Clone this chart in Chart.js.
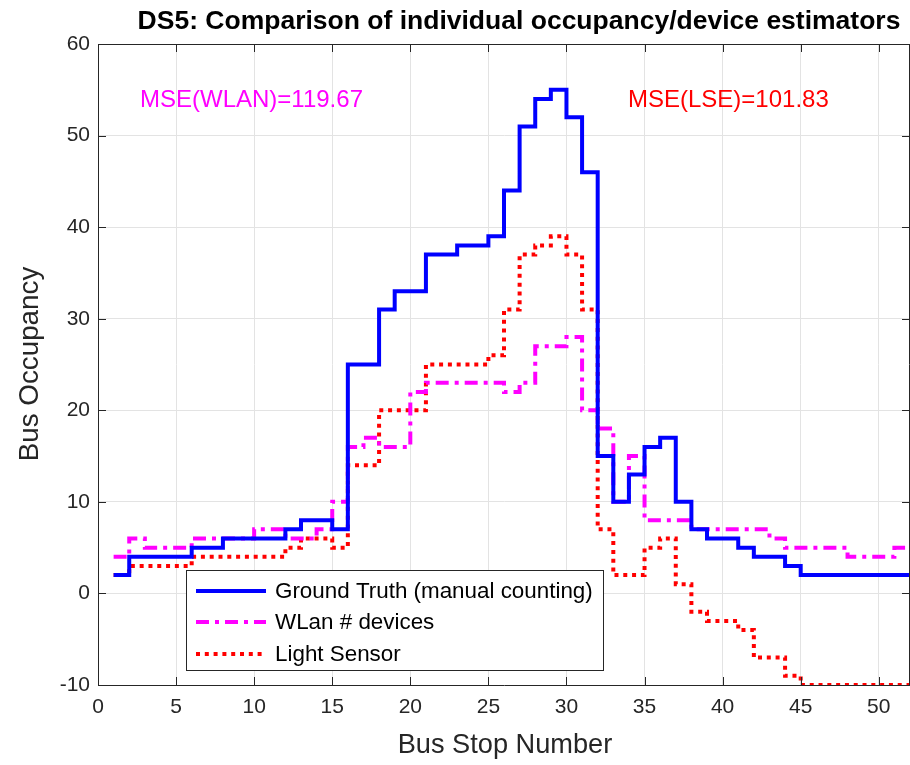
<!DOCTYPE html>
<html>
<head>
<meta charset="utf-8">
<script src="https://cdn.jsdelivr.net/npm/chart.js@4.4.0/dist/chart.umd.min.js"></script>
<style>
  html, body { margin: 0; padding: 0; background: #fff; }
  #wrap { width: 910px; height: 765px; }
</style>
</head>
<body>
<div id="wrap"><canvas id="chart" width="910" height="765"></canvas></div>
<script>
// bus stop numbers 1..52
var stops = [];
for (var s = 1; s <= 52; s++) stops.push(s);

var groundTruth = [2,4,4,4,4,5,5,6,6,6, 6,7,8,8,7,25,25,31,33,33,
                   37,37,38,38,39,44,51,54,55,52, 46,15,10,13,16,17,10,7,6,6,
                   5,4,4,3,2,2,2,2,2,2, 2,2];
var wlanDevices = [4,6,5,5,5,6,6,6,6,7, 7,6,6,7,10,16,17,16,16,22,
                   23,23,23,23,23,22,23,27,27,28, 20,18,10,15,8,8,8,7,7,7,
                   7,7,6,5,5,5,5,4,4,4, 5,5];
var lightSensor = [2,3,3,3,3,4,4,4,4,4, 4,5,6,6,5,14,14,20,20,20,
                   25,25,25,25,26,31,37,38,39,37, 31,7,2,2,5,6,1,-2,-3,-3,
                   -4,-7,-7,-9,-10,-10,-10,-10,-10,-10, -10,-10];

var xTicks = [0,5,10,15,20,25,30,35,40,45,50];
var yTicks = [-10,0,10,20,30,40,50,60];

var seriesNames = ['Ground Truth (manual counting)', 'WLan # devices', 'Light Sensor'];
var mseWlan = 'MSE(WLAN)=119.67';
var mseLse = 'MSE(LSE)=101.83';

var FONT = '"Liberation Sans", Arial, Helvetica, sans-serif';
var AXIS = '#262626';

function pts(vals) {
    return stops.map(function (x, i) { return { x: x, y: vals[i] }; });
}

var decor = {
    id: 'decor',
    afterDraw: function (chart) {
        var ctx = chart.ctx, a = chart.chartArea;
        var xs = chart.scales.x, ys = chart.scales.y;
        ctx.save();
        // box + inward ticks
        ctx.strokeStyle = AXIS;
        ctx.lineWidth = 1;
        ctx.beginPath();
        ctx.moveTo(a.left, a.top + 0.5); ctx.lineTo(a.right, a.top + 0.5);
        ctx.moveTo(a.right - 0.5, a.top); ctx.lineTo(a.right - 0.5, a.bottom);
        xTicks.forEach(function (v) {
            var px = Math.round(xs.getPixelForValue(v)) + 0.5;
            ctx.moveTo(px, a.bottom); ctx.lineTo(px, a.bottom - 8);
            ctx.moveTo(px, a.top); ctx.lineTo(px, a.top + 8);
        });
        yTicks.forEach(function (v) {
            var py = Math.round(ys.getPixelForValue(v)) + 0.5;
            ctx.moveTo(a.left, py); ctx.lineTo(a.left + 8, py);
            ctx.moveTo(a.right, py); ctx.lineTo(a.right - 8, py);
        });
        ctx.stroke();

        // title
        ctx.fillStyle = '#000';
        ctx.font = 'bold 26.5px ' + FONT;
        ctx.textAlign = 'center';
        ctx.textBaseline = 'middle';
        ctx.fillText('DS5: Comparison of individual occupancy/device estimators', 519, 22);

        // axis titles
        ctx.fillStyle = AXIS;
        ctx.font = '27.2px ' + FONT;
        ctx.fillText('Bus Stop Number', 505, 746);
        ctx.save();
        ctx.translate(30, 364);
        ctx.rotate(-Math.PI / 2);
        ctx.font = '27.8px ' + FONT;
        ctx.fillText('Bus Occupancy', 0, 0);
        ctx.restore();

        // MSE notes
        ctx.font = '24px ' + FONT;
        ctx.textAlign = 'left';
        ctx.fillStyle = '#ff00ff';
        ctx.fillText(mseWlan, 140, 100);
        ctx.fillStyle = '#ff0000';
        ctx.fillText(mseLse, 628, 100);

        // legend
        var lx = 186, ly = 570, lw = 417, lh = 100;
        ctx.fillStyle = '#fff';
        ctx.fillRect(lx, ly, lw, lh);
        ctx.strokeStyle = '#262626';
        ctx.lineWidth = 1;
        ctx.strokeRect(lx + 0.5, ly + 0.5, lw, lh);
        var rows = [591, 622, 654];
        chart.data.datasets.forEach(function (ds, i) {
            ctx.beginPath();
            ctx.strokeStyle = ds.borderColor;
            ctx.lineWidth = ds.borderWidth;
            ctx.setLineDash(ds.borderDash || []);
            ctx.moveTo(196, rows[i]); ctx.lineTo(266, rows[i]);
            ctx.stroke();
            ctx.setLineDash([]);
            ctx.fillStyle = '#000';
            ctx.font = '22.4px ' + FONT;
            ctx.fillText(seriesNames[i], 275, rows[i] + 1);
        });
        ctx.restore();
    }
};

var ctx = document.getElementById('chart').getContext('2d');
var chart = new Chart(ctx, {
    type: 'line',
    data: {
        datasets: [
            { label: seriesNames[0], data: pts(groundTruth), stepped: true,
              borderColor: '#0000ff', borderWidth: 4, pointRadius: 0, fill: false },
            { label: seriesNames[1], data: pts(wlanDevices), stepped: true,
              borderColor: '#ff00ff', borderWidth: 4, borderDash: [13, 6, 4, 6], pointRadius: 0, fill: false },
            { label: seriesNames[2], data: pts(lightSensor), stepped: true,
              borderColor: '#ff0000', borderWidth: 4, borderDash: [4, 4.8], pointRadius: 0, fill: false }
        ]
    },
    options: {
        responsive: false,
        animation: false,
        layout: { padding: { top: 44, right: 0, bottom: 0, left: 0 } },
        plugins: { legend: { display: false }, title: { display: false }, tooltip: { enabled: false } },
        scales: {
            x: {
                type: 'linear', min: 0, max: 52,
                afterBuildTicks: function (sc) { sc.ticks = xTicks.map(function (v) { return { value: v }; }); },
                afterFit: function (sc) { sc.height = 80; },
                grid: { color: '#e3e3e3', drawTicks: false },
                border: { color: AXIS, width: 1 },
                ticks: { color: AXIS, font: { family: FONT, size: 21 }, padding: 10, maxRotation: 0 }
            },
            y: {
                type: 'linear', min: -10, max: 60,
                afterBuildTicks: function (sc) { sc.ticks = yTicks.map(function (v) { return { value: v }; }); },
                afterFit: function (sc) { sc.width = 98; },
                grid: { color: '#e3e3e3', drawTicks: false },
                border: { color: AXIS, width: 1 },
                ticks: { color: AXIS, font: { family: FONT, size: 21 }, padding: 8 }
            }
        }
    },
    plugins: [decor]
});
</script>
</body>
</html>
